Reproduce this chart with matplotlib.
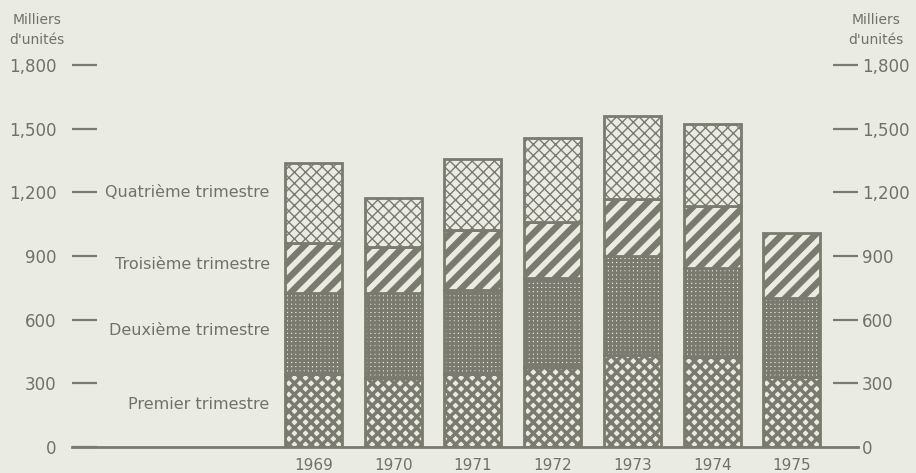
import matplotlib
matplotlib.use("Agg")
import matplotlib.pyplot as plt

years = ["1969", "1970", "1971", "1972", "1973", "1974", "1975"]
q1 = [344, 327, 346, 378, 433, 425, 331]
q2 = [381, 400, 393, 416, 467, 417, 372]
q3 = [237, 213, 283, 268, 267, 293, 303]
q4 = [378, 231, 336, 393, 392, 386, 0]
quarter_labels = ["Premier trimestre", "Deuxième trimestre",
                  "Troisième trimestre", "Quatrième trimestre"]
label_y = [198, 551, 862, 1200]
yticks = [0, 300, 600, 900, 1200, 1500, 1800]
ytick_labels = ["0", "300", "600", "900", "1,200", "1,500", "1,800"]

bg = "#eaebe3"
ink = "#7a7a6f"
txt = "#717168"

plt.rcParams["font.family"] = ["DejaVu Sans"]

fig = plt.figure(figsize=(9.16, 4.73), dpi=100, facecolor=bg)
ax = fig.add_axes([0.0786, 0.055, 0.8581, 0.8076], facecolor=bg)

x = list(range(len(years)))
# (values, hatch, hatch linewidth)
layers = [(q1, "xxx", 2.5), (q2, "++++", 2.1), (q3, "//", 4.6), (q4, "xxx", 1.0)]
bottom = [0] * len(years)
for vals, hatch, hlw in layers:
    bars = ax.bar(x, vals, 0.715, bottom=bottom, facecolor=bg, edgecolor=ink,
                  hatch=hatch, linewidth=2.0)
    for b in bars:
        try:
            b.set_hatch_linewidth(hlw)
        except AttributeError:
            pass
        if b.get_height() == 0:
            b.set_visible(False)
    bottom = [a + b for a, b in zip(bottom, vals)]

ax.set_xlim(-3.03, 6.83)
ax.set_ylim(0, 1800)
for s in ["top", "left", "right"]:
    ax.spines[s].set_visible(False)
ax.spines["bottom"].set_color(ink)
ax.spines["bottom"].set_linewidth(2)

ax.set_xticks(x)
ax.set_xticklabels(years)
ax.tick_params(axis="x", length=0, pad=8, labelsize=11, labelcolor=txt)

ax.set_yticks(yticks)
ax.set_yticklabels(ytick_labels)
ax.tick_params(axis="y", direction="in", length=18, width=1.6, color=ink,
               labelsize=12, labelcolor=txt, pad=11)
ax.yaxis.get_major_ticks()[0].tick1line.set_visible(False)

ax2 = ax.twinx()
ax2.set_ylim(ax.get_ylim())
ax2.set_yticks(yticks)
ax2.set_yticklabels(ytick_labels)
ax2.tick_params(axis="y", direction="in", length=18, width=1.6, color=ink,
                labelsize=12, labelcolor=txt, pad=3)
ax2.yaxis.get_major_ticks()[0].tick2line.set_visible(False)
for s in ax2.spines.values():
    s.set_visible(False)

for lab, yy in zip(quarter_labels, label_y):
    ax.text(-0.55, yy, lab, ha="right", va="center", fontsize=11.5, color=txt)

fig.text(0.040, 0.957, "Milliers", fontsize=10, color=txt, ha="center", va="center")
fig.text(0.040, 0.915, "d'unités", fontsize=10, color=txt, ha="center", va="center")
fig.text(0.930, 0.957, "Milliers", fontsize=10, color=txt, ha="left", va="center")
fig.text(0.926, 0.915, "d'unités", fontsize=10, color=txt, ha="left", va="center")

fig.savefig("out.png", dpi=100, facecolor=bg)
